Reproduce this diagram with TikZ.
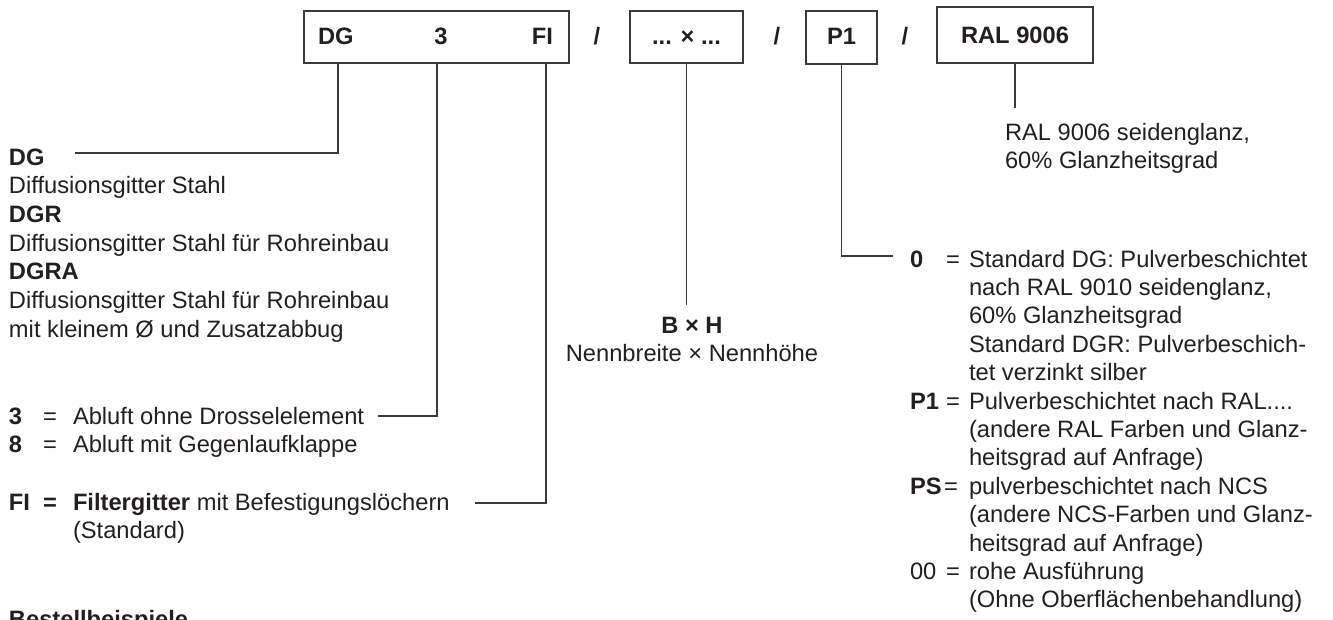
\documentclass[tikz,border=0pt]{standalone}
\usepackage{fontspec}
\setmainfont{Liberation Sans}
\definecolor{ink}{HTML}{231F20}
\definecolor{wirec}{HTML}{3A3A3A}
\newcommand{\fsz}{\fontsize{23.7pt}{28.7pt}\selectfont}
\tikzset{
  txt/.style={anchor=base west, inner sep=0pt, outer sep=0pt, font=\fsz, text=ink},
  btxt/.style={txt, font=\fsz\bfseries},
  ctxt/.style={txt, anchor=base},
  cbtxt/.style={btxt, anchor=base},
  codebox/.style={draw=wirec, line width=1.4pt, inner sep=0pt},
  wire/.style={draw=wirec, line width=1.2pt},
}
\begin{document}
\begin{tikzpicture}[x=1pt, y=-1pt]
\useasboundingbox (0,0) rectangle (1333,619);
% ---- code boxes
\node[codebox, minimum width=265pt, minimum height=52pt] (box1) at (436.5,37) {};
\node[codebox, minimum width=113pt, minimum height=52pt] (box2) at (686.5,37) {};
\node[codebox, minimum width=71pt, minimum height=53pt] (box3) at (841.5,37.5) {};
\node[codebox, minimum width=156pt, minimum height=56pt] (box4) at (1015,35) {};
\node[btxt] (kDG) at (318,44) {DG};
\node[cbtxt] (k3) at (441,44) {3};
\node[cbtxt] (kFI) at (542.5,44) {FI};
\node[cbtxt] (sl1) at (597,44) {/};
\node[cbtxt] (kBH) at (686.5,44) {... × ...};
\node[cbtxt] (sl2) at (777,44) {/};
\node[cbtxt] (kP1) at (841.5,44) {P1};
\node[cbtxt] (sl3) at (905,44) {/};
\node[cbtxt] (kRAL) at (1015,43) {RAL 9006};
% ---- left block: type
\node[btxt] (dgLbl) at (9,165) {DG};
\node[txt] (dgT1) at (9,193.7) {Diffusionsgitter Stahl};
\node[btxt] (dgrLbl) at (9,222.4) {DGR};
\node[txt] (dgT2) at (9,251.1) {Diffusionsgitter Stahl für Rohreinbau};
\node[btxt] (dgraLbl) at (9,279.8) {DGRA};
\node[txt] (dgT3) at (9,308.5) {Diffusionsgitter Stahl für Rohreinbau};
\node[txt] (dgT4) at (9,337.2) {mit kleinem Ø und Zusatzabbug};
% ---- left block: 3 / 8
\node[btxt] (n3) at (9,424) {3};
\node[txt] (eq3) at (43,424) {=};
\node[txt] (t3) at (73,424) {Abluft ohne Drosselelement};
\node[btxt] (n8) at (9,452.7) {8};
\node[txt] (eq8) at (43,452.7) {=};
\node[txt] (t8) at (73,452.7) {Abluft mit Gegenlaufklappe};
% ---- left block: FI
\node[btxt] (nFI) at (9,510) {FI};
\node[btxt] (eqFI) at (43,510) {=};
\node[txt] (tFI) at (73,510) {\textbf{Filtergitter} mit Befestigungslöchern};
\node[txt] (tFI2) at (73,538.7) {(Standard)};
\node[btxt] (best) at (9,627) {Bestellbeispiele};
% ---- B x H
\node[cbtxt] (bh1) at (692,333) {B × H};
\node[ctxt] (bh2) at (692,361) {Nennbreite × Nennhöhe};
% ---- RAL 9006
\node[txt] (ral1) at (1005,140) {RAL 9006 seidenglanz,};
\node[txt] (ral2) at (1005,168) {60\% Glanzheitsgrad};
% ---- right block
\node[btxt] (n0) at (910,267) {0};
\node[txt] (eq0) at (946,267) {=};
\node[txt] (r1) at (969,267) {Standard DG: Pulverbeschichtet};
\node[txt] (r2) at (969,295.4) {nach RAL 9010 seidenglanz,};
\node[txt] (r3) at (969,323.8) {60\% Glanzheitsgrad};
\node[txt] (r4) at (969,352.2) {Standard DGR: Pulverbeschich-};
\node[txt] (r5) at (969,380.6) {tet verzinkt silber};
\node[btxt] (nP1) at (910,409) {P1};
\node[txt] (eqP1) at (946,409) {=};
\node[txt] (r6) at (969,409) {Pulverbeschichtet nach RAL....};
\node[txt] (r7) at (969,437.4) {(andere RAL Farben und Glanz-};
\node[txt] (r8) at (969,465.8) {heitsgrad auf Anfrage)};
\node[btxt] (nPS) at (910,494.2) {PS};
\node[txt] (eqPS) at (944,494.2) {=};
\node[txt] (r9) at (969,494.2) {pulverbeschichtet nach NCS};
\node[txt] (r10) at (969,522.6) {(andere NCS-Farben und Glanz-};
\node[txt] (r11) at (969,551) {heitsgrad auf Anfrage)};
\node[txt] (n00) at (910,579.4) {00};
\node[txt] (eq00) at (946,579.4) {=};
\node[txt] (r12) at (969,579.4) {rohe Ausführung};
\node[txt] (r13) at (969,607.8) {(Ohne Oberflächenbehandlung)};
% ---- connectors
\coordinate (jDG) at (338,0);
\coordinate (eDG) at (75,153);
\coordinate (j3) at (437,0);
\coordinate (e3) at (378,416);
\coordinate (jFI) at (546,0);
\coordinate (eFI) at (475,503);
\coordinate (eBH) at (0,305);
\coordinate (eP1) at (893,256);
\coordinate (eRAL) at (0,108);
\draw[wire] (box1.south -| jDG) |- (eDG);
\draw[wire] (box1.south -| j3) |- (e3);
\draw[wire] (box1.south -| jFI) |- (eFI);
\draw[wire] (box2.south) -- (box2.south |- eBH);
\draw[wire] (box3.south) |- (eP1);
\draw[wire] (box4.south) -- (box4.south |- eRAL);
\end{tikzpicture}
\end{document}
